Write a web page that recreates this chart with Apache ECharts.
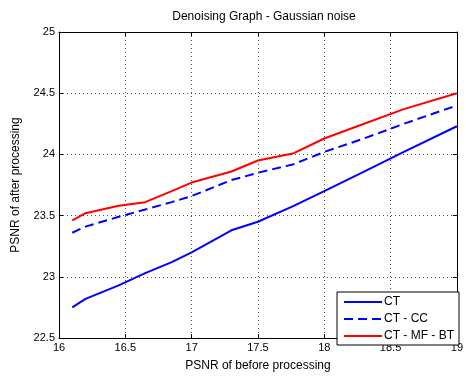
<!DOCTYPE html>
<html>
<head>
<meta charset="utf-8">
<script src="https://cdn.jsdelivr.net/npm/echarts@6/dist/echarts.min.js"></script>
<style>
html, body { margin: 0; padding: 0; background: #fff; }
#chart { width: 466px; height: 377px; }
</style>
</head>
<body>
<div id="chart"></div>
<script>
// PSNR of input (before processing)
const psnrBefore = [16.1, 16.2, 16.45, 16.65, 16.85, 17.0, 17.3, 17.5, 17.77, 18.0, 18.3, 18.6, 19.0]
const ct = [22.75, 22.82, 22.93, 23.03, 23.12, 23.20, 23.38, 23.45, 23.58, 23.70, 23.86, 24.02, 24.23]
const ctCC = [23.36, 23.41, 23.49, 23.55, 23.61, 23.66, 23.79, 23.85, 23.92, 24.02, 24.13, 24.25, 24.40]
const ctMFBT = [23.46, 23.52, 23.58, 23.61, 23.70, 23.77, 23.86, 23.95, 24.01, 24.13, 24.25, 24.37, 24.50]
const seriesNames = ["CT", "CT - CC", "CT - MF - BT"]

function pairs(ys) {
	return psnrBefore.map((x, i) => [x, ys[i]])
}

let font = "Liberation Sans, Arial, sans-serif"
let chart = echarts.init(document.getElementById("chart"))

let boxAxis = {
	axisLine: {show: true, lineStyle: {color: "#000", width: 1}},
	axisTick: {show: true, inside: true, length: 4, lineStyle: {color: "#000"}},
	axisLabel: {show: false},
	splitLine: {show: false}
}

let option = {
	animation: false,
	backgroundColor: "#fff",
	title: {
		text: "Denoising Graph - Gaussian noise",
		left: 259,
		top: 6,
		textAlign: "center",
		textStyle: {fontFamily: font, fontSize: 12, fontWeight: "normal", color: "#000"}
	},
	grid: {left: 59, right: 7, top: 32, bottom: 31},
	legend: {
		data: seriesNames,
		orient: "vertical",
		right: 7,
		bottom: 32,
		backgroundColor: "#fff",
		borderColor: "#000",
		borderWidth: 1,
		borderRadius: 0,
		padding: [4, 5, 3, 6],
		itemWidth: 38,
		itemHeight: 11,
		itemGap: 5,
		itemStyle: {opacity: 0},
		textStyle: {fontFamily: font, fontSize: 12, color: "#000", padding: [0, 0, 0, -3]}
	},
	xAxis: [{
		type: "value",
		min: 16,
		max: 19,
		interval: 0.5,
		name: "PSNR of before processing",
		nameLocation: "middle",
		nameGap: 22,
		nameTextStyle: {fontFamily: font, fontSize: 12, color: "#000"},
		axisLine: {show: true, lineStyle: {color: "#000"}},
		axisTick: {show: true, inside: true, length: 4, lineStyle: {color: "#000"}},
		axisLabel: {fontFamily: font, fontSize: 11, color: "#000", margin: 4},
		splitLine: {show: true, lineStyle: {color: "#555", type: [1, 3]}}
	}, Object.assign({type: "value", position: "top", min: 16, max: 19, interval: 0.5}, boxAxis)],
	yAxis: [{
		type: "value",
		min: 22.5,
		max: 25,
		interval: 0.5,
		name: "PSNR of after processing",
		nameLocation: "middle",
		nameGap: 37,
		nameTextStyle: {fontFamily: font, fontSize: 12, color: "#000"},
		axisLine: {show: true, lineStyle: {color: "#000"}},
		axisTick: {show: true, inside: true, length: 4, lineStyle: {color: "#000"}},
		axisLabel: {fontFamily: font, fontSize: 11, color: "#000", margin: 4},
		splitLine: {show: true, lineStyle: {color: "#555", type: [1, 3]}}
	}, Object.assign({type: "value", position: "right", min: 22.5, max: 25, interval: 0.5}, boxAxis)],
	series: [
		{
			name: seriesNames[0],
			type: "line",
			data: pairs(ct),
			symbol: "none",
			lineStyle: {color: "#0000ff", width: 2},
			itemStyle: {color: "#0000ff"}
		},
		{
			name: seriesNames[1],
			type: "line",
			data: pairs(ctCC),
			symbol: "none",
			lineStyle: {color: "#0000ff", width: 2, type: [9, 5]},
			itemStyle: {color: "#0000ff"}
		},
		{
			name: seriesNames[2],
			type: "line",
			data: pairs(ctMFBT),
			symbol: "none",
			lineStyle: {color: "#ff0000", width: 2},
			itemStyle: {color: "#ff0000"}
		}
	]
}
chart.setOption(option)
</script>
</body>
</html>
